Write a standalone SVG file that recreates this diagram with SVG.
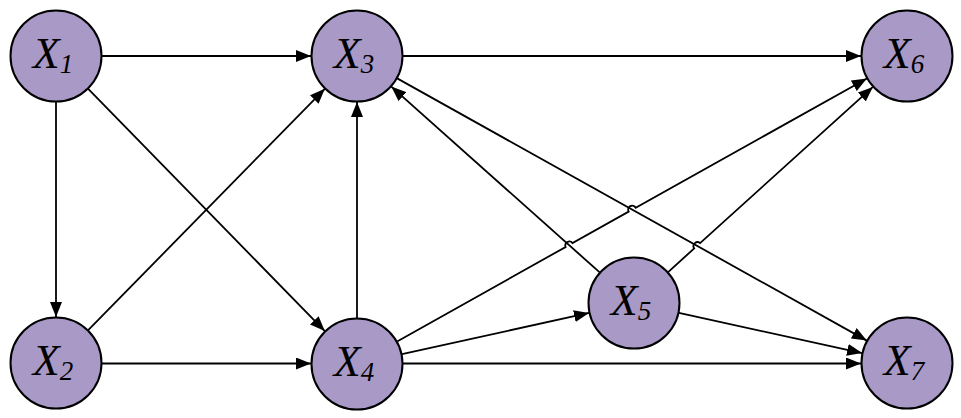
<svg xmlns="http://www.w3.org/2000/svg" width="961" height="418" viewBox="0 0 961 418">
<defs>
<marker id="arr" markerUnits="userSpaceOnUse" markerWidth="16" markerHeight="12" refX="15" refY="6" orient="auto">
<path d="M0,0 L15,6 L0,12 Z" fill="#000"/>
</marker>
<style>
.node circle{fill:#A899C6;stroke:#000;stroke-width:2}
.node text{font-family:'Liberation Serif','Times New Roman',serif;font-style:italic;font-size:44px;fill:#000}
.node .sub{font-size:27px}
#edges path{fill:none;stroke:#000;stroke-width:1.8;marker-end:url(#arr)}
</style>
</defs>
<rect width="961" height="418" fill="#fff"/>
<g id="edges">
<path d="M102,56 L311,56"/>
<path d="M56,102 L56,317"/>
<path d="M88.2,88.9 L324.8,331.1"/>
<path d="M88.2,330.2 L324.8,88.8"/>
<path d="M102,363.5 L311,363.5"/>
<path d="M357,318 L357,102"/>
<path d="M403,56 L861,56"/>
<path d="M397.2,78.4 L866.8,340.6"/>
<path d="M599.7,272.4 L391.3,86.6"/>
<path d="M397.1,341.5 L565.6,247 A4,4 0 0 1 572.5,243.1 L628.7,211.6 A4,4 0 0 1 635.7,207.7 L866.9,78.5"/>
<path d="M402,354.1 L589,312.9"/>
<path d="M403,363.5 L861,363.5"/>
<path d="M668.1,272.1 L694.2,248.4 A4,4 0 0 1 700.1,243.1 L872.9,86.9"/>
<path d="M678.9,312.9 L862.1,353.1"/>
</g>
<g id="X1" class="node"><circle cx="56" cy="56" r="45.5"/><text x="53" y="68" text-anchor="middle">X<tspan class="sub" dy="5">1</tspan></text></g>
<g id="X2" class="node"><circle cx="56" cy="363" r="45.5"/><text x="53" y="375" text-anchor="middle">X<tspan class="sub" dy="5">2</tspan></text></g>
<g id="X3" class="node"><circle cx="357" cy="56" r="45.5"/><text x="354" y="68" text-anchor="middle">X<tspan class="sub" dy="5">3</tspan></text></g>
<g id="X4" class="node"><circle cx="357" cy="364" r="45.5"/><text x="354" y="376" text-anchor="middle">X<tspan class="sub" dy="5">4</tspan></text></g>
<g id="X5" class="node"><circle cx="634" cy="303" r="45.5"/><text x="631" y="315" text-anchor="middle">X<tspan class="sub" dy="5">5</tspan></text></g>
<g id="X6" class="node"><circle cx="907" cy="56" r="45.5"/><text x="904" y="68" text-anchor="middle">X<tspan class="sub" dy="5">6</tspan></text></g>
<g id="X7" class="node"><circle cx="907" cy="363" r="45.5"/><text x="904" y="375" text-anchor="middle">X<tspan class="sub" dy="5">7</tspan></text></g>
</svg>
